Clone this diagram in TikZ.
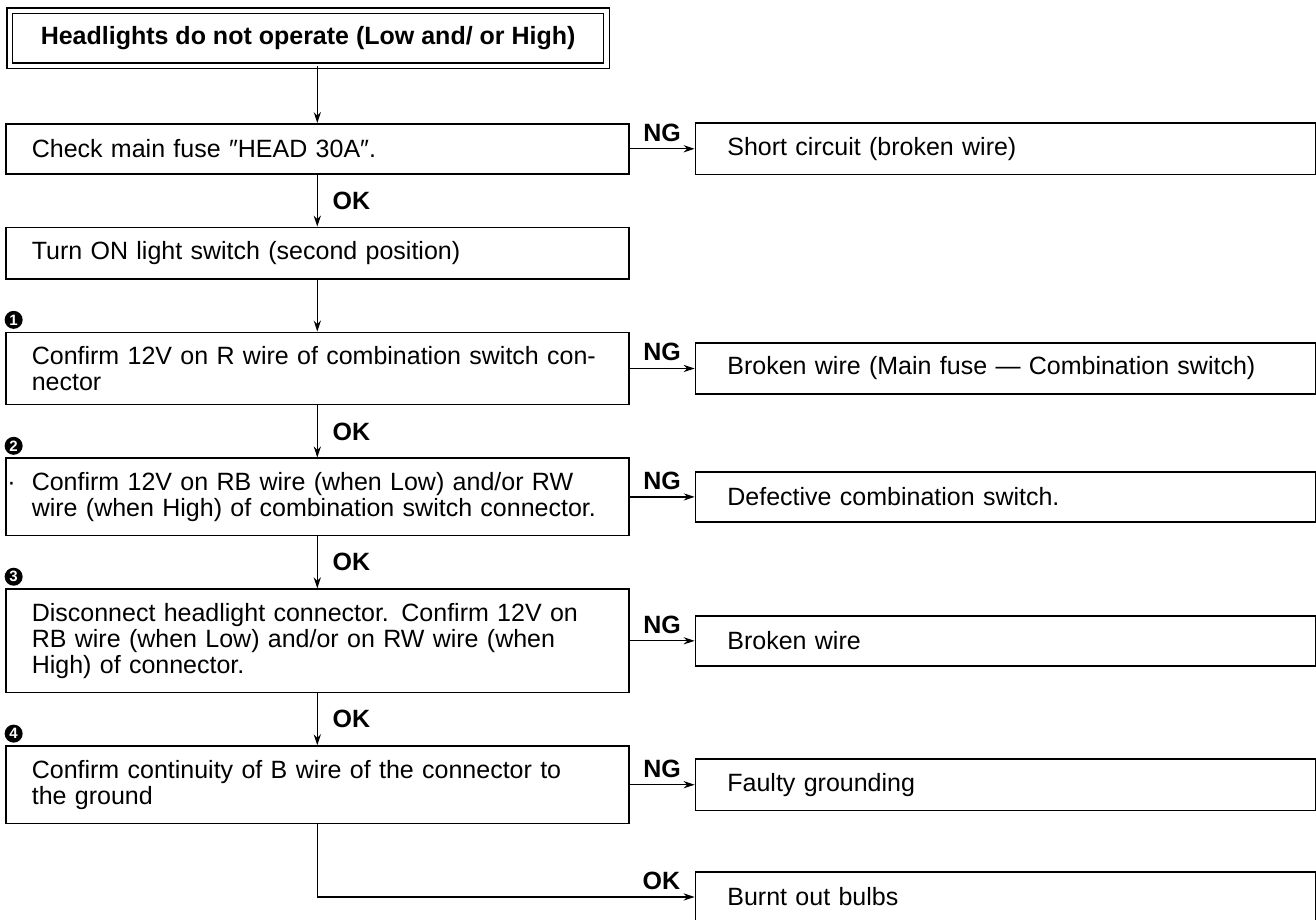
\documentclass[tikz,border=0pt]{standalone}
\usepackage{fontspec}
\setmainfont{Liberation Sans}
\usetikzlibrary{arrows.meta,positioning}
\newcommand\bodyfont{\fontsize{12.5}{13}\selectfont}

\begin{document}
\begin{tikzpicture}[
  x=0.5pt, y=-0.5pt, >={Stealth[length=5.5pt,width=3.6pt]},
  font=\bodyfont,
  ttl/.style={draw, double, double distance=2.2pt, line width=0.75pt, font=\bodyfont\bfseries,
              inner xsep=15.5pt, minimum height=27.5pt},
  chk/.style={draw, line width=0.8pt, text width=285.5pt, inner xsep=13pt,
              inner ysep=7pt, minimum height=25pt, align=left},
  res/.style={draw, line width=0.8pt, text width=278pt, inner xsep=16pt,
              inner ysep=7pt, minimum height=25pt, align=left},
  num/.style={circle, fill=black, text=white, minimum size=9pt, inner sep=0pt,
              font=\bfseries\fontsize{7.5}{7.5}\selectfont},
  lbl/.style={font=\bodyfont\bfseries},
  arr/.style={->, line width=0.6pt},
  node distance=26pt,
]
  \useasboundingbox (0,0) rectangle (1316,920);

  % left column: checks
  \node[ttl, anchor=north west] (ttl) at (9,10) {Headlights do not operate (Low and/ or High)};
  \node[chk, anchor=north west] (c1) at (5,123) {Check main fuse ″HEAD 30A″.};
  \node[chk, below=of c1] (c2) {Turn ON light switch (second position)};
  \node[chk, below=of c2] (c3) {Confirm 12V on R wire of combination switch con-\\nector};
  \node[chk, below=of c3] (c4) {\llap{·\hspace{8pt}}Confirm 12V on RB wire (when Low) and/or RW\\
                                wire (when High) of combination switch connector.};
  \node[chk, below=of c4] (c5) {Disconnect headlight connector. Confirm 12V on\\
                                RB wire (when Low) and/or on RW wire (when\\High) of connector.};
  \node[chk, below=of c5] (c6) {Confirm continuity of B wire of the connector to\\the ground};

  % step numbers
  \node[num, above right=2.5pt and 1pt of c3.north west] (n1) {1};
  \node[num, above right=2.5pt and 1pt of c4.north west] (n2) {2};
  \node[num, above right=2.5pt and 1pt of c5.north west] (n3) {3};
  \node[num, above right=2.5pt and 1pt of c6.north west] (n4) {4};

  % right column: results
  \node[res, right=32.5pt of c1] (r1) {Short circuit (broken wire)};
  \node[res, right=32.5pt of c3] (r2) {Broken wire (Main fuse --- Combination switch)};
  \node[res, right=32.5pt of c4] (r3) {Defective combination switch.};
  \node[res, right=32.5pt of c5] (r4) {Broken wire};
  \node[res, right=32.5pt of c6] (r5) {Faulty grounding};
  \node[res, below=30pt of r5] (r6) {Burnt out bulbs};

  \draw[arr] (ttl.south -| c1.north) -- (c1.north);
  \draw[arr] (c1) -- node[lbl, right=4pt] {OK} (c2);
  \draw[arr] (c2) -- (c3);
  \draw[arr] (c3) -- node[lbl, right=4pt] {OK} (c4);
  \draw[arr] (c4) -- node[lbl, right=4pt] {OK} (c5);
  \draw[arr] (c5) -- node[lbl, right=4pt] {OK} (c6);

  \draw[arr] (c1) -- node[lbl, above] {NG} (r1);
  \draw[arr] (c3) -- node[lbl, above] {NG} (r2);
  \draw[arr] (c4) -- node[lbl, above] {NG} (r3);
  \draw[arr] (c5) -- node[lbl, above] {NG} (r4);
  \draw[arr] (c6) -- node[lbl, above] {NG} (r5);
  \draw[arr] (c6) |- node[lbl, above, pos=0.956] {OK} (r6);
\end{tikzpicture}
\end{document}
